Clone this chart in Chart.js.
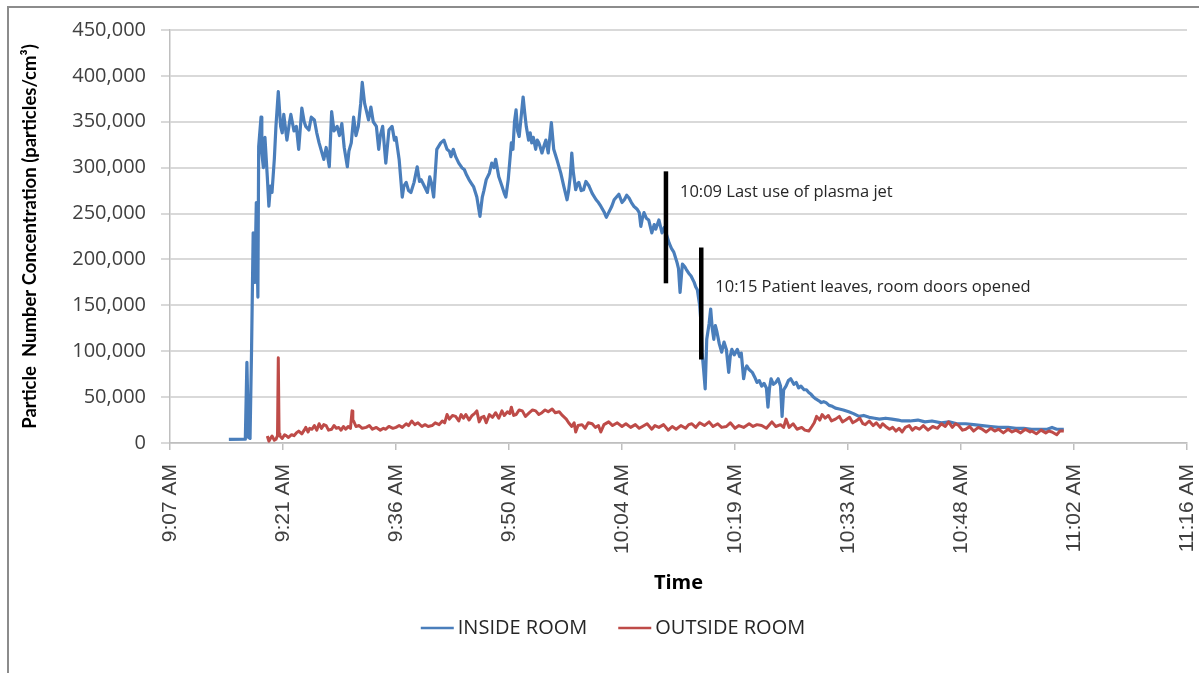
<!DOCTYPE html>
<html>
<head>
<meta charset="utf-8">
<script src="https://cdn.jsdelivr.net/npm/chart.js@4.4.0/dist/chart.umd.min.js"></script>
<style>
html, body { margin: 0; padding: 0; background: #fff; overflow: hidden; }
#frame { position: absolute; left: 7px; top: 6px; width: 1190px; height: 665px; border-top: 2px solid #8c8c8c; border-left: 2px solid #8c8c8c; }
#wrap { position: absolute; left: 0; top: 0; width: 1199px; height: 673px; }
</style>
</head>
<body>
<div id="frame"></div>
<div id="wrap"><canvas id="particleChart" width="1199" height="673"></canvas></div>
<script>
// time is minutes after 9:00 AM, counts in particles/cm3
const insideTime = [14.7, 16.8, 17.0, 17.2, 17.4, 17.6, 17.8, 18.0, 18.2, 18.4, 18.5, 18.8, 18.9, 19.1, 19.3, 19.6, 19.8, 20.0, 20.2, 20.5,
  20.7, 21.0, 21.3, 21.5, 21.7, 22.1, 22.4, 22.6, 23.0, 23.3, 23.6, 24.0, 24.3, 24.5, 24.9, 25.2, 25.6, 25.9, 26.2, 26.5,
  26.8, 27.1, 27.5, 27.8, 28.1, 28.5, 28.8, 29.1, 29.4, 29.8, 30.0, 30.3, 30.6, 30.9, 31.2, 31.5, 31.7, 32.0, 32.2, 32.5,
  32.8, 33.1, 33.5, 33.8, 34.0, 34.3, 34.7, 35.1, 35.5, 35.8, 36.0, 36.4, 36.8, 37.0, 37.3, 37.6, 37.9, 38.3, 38.7, 39.0,
  39.2, 39.6, 40.0, 40.3, 40.5, 40.8, 41.2, 41.7, 42.1, 42.5, 42.8, 43.0, 43.3, 43.6, 44.0, 44.4, 44.7, 45.0, 45.3, 45.6,
  45.9, 46.3, 46.7, 47.0, 47.2, 47.5, 47.9, 48.2, 48.5, 48.7, 49.1, 49.5, 49.8, 50.0, 50.3, 50.7, 50.9, 51.1, 51.3, 51.5,
  51.7, 52.0, 52.2, 52.4, 52.6, 52.9, 53.1, 53.3, 53.5, 53.8, 54.0, 54.2, 54.4, 54.6, 54.9, 55.1, 55.4, 55.8, 56.1, 56.5,
  57.0, 57.4, 57.8, 58.0, 58.2, 58.4, 58.6, 58.9, 59.1, 59.3, 59.6, 59.9, 60.2, 60.6, 61.0, 61.5, 61.8, 62.1, 62.5, 62.8,
  63.1, 63.5, 63.8, 64.1, 64.4, 64.8, 65.1, 65.4, 65.7, 66.0, 66.3, 66.7, 67.0, 67.2, 67.4, 67.6, 67.9, 68.2, 68.6, 68.9,
  69.1, 69.5, 69.9, 70.2, 70.4, 70.8, 71.1, 71.4, 71.8, 72.0, 72.2, 72.4, 72.5, 72.8, 73.0, 73.3, 73.6, 74.0, 74.2, 74.4,
  74.7, 74.9, 75.0, 75.2, 75.4, 75.6, 75.9, 76.1, 76.3, 76.5, 76.7, 76.9, 77.2, 77.5, 77.8, 78.1, 78.4, 78.6, 78.8, 79.1,
  79.5, 79.8, 80.0, 80.3, 80.5, 80.7, 81.0, 81.4, 81.7, 82.0, 82.3, 82.6, 82.9, 83.2, 83.4, 83.6, 83.8, 84.1, 84.4, 84.7,
  85.0, 85.2, 85.4, 85.7, 86.0, 86.3, 86.7, 87.0, 87.3, 87.6, 88.0, 88.3, 88.6, 88.9, 89.2, 89.5, 89.9, 90.2, 90.5, 90.8,
  91.2, 91.6, 92.0, 92.5, 93.0, 93.7, 94.3, 95.0, 95.6, 96.3, 97.0, 97.6, 98.4, 99.2, 100.0, 100.5, 101.5, 102.5, 103.4, 104.3,
  105.5, 106.5, 107.5, 108.6, 109.6, 110.7, 111.8, 112.8, 114.0, 115.0, 116.0, 117.0, 118.0, 119.0, 119.6, 120.2, 121.1];
const insideCount = [4000, 4200, 88000, 6000, 5000, 105000, 229000, 175000, 262000, 159000, 323000, 355000, 316000, 300000, 333000, 290000, 258000, 280000, 273000, 310000,
  345000, 383000, 345000, 338000, 358000, 330000, 348000, 358000, 340000, 345000, 320000, 365000, 350000, 345000, 341000, 355000, 352000, 338000, 327000, 318000,
  309000, 322000, 301000, 361000, 340000, 345000, 335000, 348000, 322000, 301000, 318000, 327000, 355000, 335000, 345000, 370000, 393000, 370000, 363000, 352000,
  366000, 350000, 345000, 320000, 335000, 345000, 305000, 341000, 345000, 330000, 333000, 309000, 268000, 280000, 284000, 275000, 273000, 284000, 301000, 285000,
  287000, 280000, 273000, 290000, 284000, 268000, 320000, 327000, 330000, 320000, 318000, 312000, 320000, 312000, 305000, 300000, 298000, 292000, 287000, 283000,
  279000, 268000, 247000, 268000, 275000, 287000, 294000, 305000, 300000, 309000, 290000, 280000, 272000, 268000, 287000, 327000, 320000, 350000, 363000, 340000,
  334000, 360000, 377000, 360000, 345000, 330000, 338000, 327000, 333000, 320000, 330000, 327000, 322000, 316000, 325000, 330000, 316000, 349000, 320000, 309000,
  294000, 279000, 265000, 275000, 290000, 316000, 295000, 276000, 282000, 284000, 275000, 276000, 285000, 280000, 272000, 265000, 262000, 258000, 252000, 246000,
  251000, 258000, 265000, 268000, 271000, 262000, 265000, 270000, 267000, 262000, 258000, 255000, 251000, 236000, 245000, 251000, 245000, 243000, 229000, 238000,
  233000, 243000, 229000, 235000, 229000, 218000, 212000, 208000, 197000, 190000, 164000, 185000, 195000, 192000, 189000, 185000, 182000, 175000, 170000, 167000,
  150000, 127000, 99000, 80000, 59000, 113000, 130000, 146000, 125000, 113000, 128000, 121000, 108000, 99000, 110000, 102000, 77000, 95000, 102000, 96000,
  102000, 94000, 98000, 70000, 80000, 84000, 80000, 77000, 72000, 66000, 68000, 62000, 65000, 60000, 39000, 60000, 70000, 64000, 66000, 70000,
  62000, 29000, 58000, 62000, 68000, 70000, 64000, 66000, 60000, 62000, 58000, 58000, 55000, 53000, 50000, 48000, 46000, 44000, 45000, 44000,
  41000, 40000, 38000, 37000, 36000, 34000, 32000, 29000, 30000, 28000, 27000, 26000, 27000, 26000, 25000, 24000, 24000, 25000, 23000, 24000,
  22000, 23000, 21000, 21000, 20000, 19000, 18000, 17000, 17000, 16000, 16000, 15000, 15000, 15000, 17000, 15000, 15000];

const outsideTime = [19.6, 19.8, 20.0, 20.2, 20.5, 20.7, 20.9, 21.0, 21.1, 21.2, 21.5, 21.8, 22.0, 22.3, 22.7, 23.0, 23.3, 23.6, 24.0, 24.3,
  24.5, 24.8, 25.0, 25.3, 25.6, 25.9, 26.2, 26.5, 26.8, 27.1, 27.4, 27.8, 28.1, 28.4, 28.7, 29.0, 29.3, 29.6, 29.9, 30.2,
  30.4, 30.5, 30.6, 30.9, 31.3, 31.7, 32.2, 32.6, 33.0, 33.5, 34.0, 34.4, 34.7, 35.1, 35.6, 36.0, 36.4, 36.8, 37.3, 37.6,
  38.0, 38.4, 38.8, 39.3, 39.7, 40.1, 40.6, 41.0, 41.5, 41.9, 42.2, 42.5, 42.8, 43.2, 43.6, 44.0, 44.3, 44.6, 44.9, 45.3,
  45.7, 46.0, 46.3, 46.6, 46.9, 47.2, 47.5, 47.9, 48.3, 48.7, 49.1, 49.5, 49.8, 50.2, 50.5, 50.7, 51.0, 51.3, 51.7, 52.1,
  52.5, 53.0, 53.4, 53.8, 54.2, 54.6, 55.0, 55.4, 55.9, 56.3, 56.8, 57.2, 57.7, 58.0, 58.4, 58.7, 58.9, 59.2, 59.7, 60.1,
  60.5, 61.0, 61.4, 61.8, 62.1, 62.5, 63.1, 63.6, 64.2, 64.8, 65.3, 65.9, 66.5, 67.0, 67.4, 68.0, 68.6, 69.0, 69.5, 70.1,
  70.7, 71.2, 71.7, 72.3, 72.9, 73.3, 73.7, 74.2, 74.7, 75.3, 75.9, 76.4, 77.0, 77.5, 78.1, 78.6, 79.2, 79.7, 80.3, 81.0,
  81.5, 82.0, 82.6, 83.2, 83.9, 84.4, 85.0, 85.4, 85.7, 86.1, 86.6, 87.1, 87.7, 88.1, 88.6, 89.0, 89.3, 89.6, 90.0, 90.3,
  90.7, 91.1, 91.5, 92.0, 92.5, 92.9, 93.3, 93.8, 94.2, 94.6, 95.1, 95.5, 95.8, 96.3, 96.8, 97.2, 97.7, 98.0, 98.4, 98.9,
  99.3, 99.7, 100.1, 100.5, 100.9, 101.4, 101.8, 102.2, 102.7, 103.2, 103.8, 104.4, 105.0, 105.5, 106.0, 106.4, 106.9, 107.3, 107.7, 108.2,
  108.6, 109.1, 109.6, 110.2, 110.7, 111.2, 111.8, 112.3, 112.8, 113.4, 114.0, 114.5, 115.0, 115.6, 116.2, 116.8, 117.0, 117.6, 118.2, 118.8,
  119.2, 119.6, 120.2, 120.6, 121.1];
const outsideCount = [7600, 2000, 5000, 7600, 3000, 4000, 8000, 93000, 10000, 7600, 5000, 9000, 8000, 6000, 9000, 8000, 11000, 13000, 10000, 14000,
  17000, 12000, 16000, 15000, 19000, 14000, 21000, 16000, 20000, 19000, 14000, 15000, 19000, 16000, 17000, 14000, 18000, 15000, 18000, 16000,
  35000, 24000, 24000, 18000, 19000, 16000, 17000, 19000, 15000, 17000, 14000, 16000, 15000, 18000, 16000, 17000, 19000, 17000, 21000, 19000,
  24000, 20000, 22000, 18000, 20000, 18000, 19000, 22000, 20000, 24000, 22000, 31000, 26000, 30000, 29000, 24000, 31000, 27000, 31000, 25000,
  30000, 32000, 35000, 23000, 28000, 29000, 22000, 31000, 28000, 33000, 27000, 35000, 30000, 34000, 32000, 39000, 30000, 31000, 36000, 35000,
  29000, 33000, 36000, 35000, 31000, 33000, 36000, 34000, 37000, 33000, 34000, 30000, 26000, 22000, 18000, 22000, 12000, 19000, 20000, 16000,
  22000, 21000, 17000, 19000, 12000, 20000, 23000, 19000, 22000, 18000, 21000, 17000, 20000, 16000, 18000, 21000, 15000, 19000, 17000, 20000,
  14000, 18000, 15000, 19000, 16000, 20000, 21000, 17000, 22000, 19000, 23000, 18000, 21000, 17000, 18000, 22000, 16000, 19000, 17000, 21000,
  18000, 20000, 19000, 16000, 23000, 18000, 20000, 17000, 26000, 17000, 21000, 15000, 17000, 14000, 13000, 18000, 22000, 29000, 25000, 31000,
  27000, 30000, 24000, 26000, 29000, 23000, 25000, 28000, 22000, 24000, 27000, 21000, 20000, 24000, 19000, 22000, 17000, 21000, 18000, 15000,
  17000, 13000, 16000, 12000, 17000, 19000, 14000, 17000, 15000, 19000, 14000, 18000, 16000, 21000, 18000, 23000, 17000, 21000, 19000, 14000,
  15000, 18000, 13000, 17000, 15000, 12000, 16000, 13000, 15000, 11000, 15000, 12000, 14000, 11000, 15000, 12000, 13000, 10000, 14000, 11000,
  13000, 12000, 9000, 13000, 13000];

const xTickValues = [7.2, 21.6, 36.0, 50.4, 64.8, 79.2, 93.6, 108.0, 122.4, 136.8];
const xTickLabels = ['9:07 AM', '9:21 AM', '9:36 AM', '9:50 AM', '10:04 AM', '10:19 AM', '10:33 AM', '10:48 AM', '11:02 AM', '11:16 AM'];

const markerTime = [70.4, 74.9];
const markerLow = [174000, 91000];
const markerHigh = [296000, 213000];
const noteLevel = [273000, 170000];
const noteText = ['10:09 Last use of plasma jet', '10:15 Patient leaves, room doors opened'];

const seriesNames = ['INSIDE ROOM', 'OUTSIDE ROOM'];
const blue = '#4a7ebb';
const red = '#be4b48';

function pairs(times, values) {
    return times.map((t, i) => ({ x: t, y: values[i] }));
}

const datasets = [
    { label: seriesNames[0], data: pairs(insideTime, insideCount), borderColor: blue, borderWidth: 3.2, order: 3 },
    { label: seriesNames[1], data: pairs(outsideTime, outsideCount), borderColor: red, borderWidth: 3, order: 2 }
];
markerTime.forEach((t, i) => {
    datasets.push({
        label: 'marker' + i,
        data: [{ x: t, y: markerLow[i] }, { x: t, y: markerHigh[i] }],
        borderColor: '#000',
        borderWidth: 4.5,
        borderCapStyle: 'butt',
        order: 1
    });
});

const notesAndLegend = {
    id: 'notesAndLegend',
    afterDraw(chart) {
        const { ctx, scales: { x, y } } = chart;
        ctx.save();
        ctx.fillStyle = '#262626';
        ctx.textBaseline = 'middle';
        ctx.font = '16.5px "Open Sans"';
        noteText.forEach((txt, i) => {
            ctx.fillText(txt, x.getPixelForValue(markerTime[i]) + 14, y.getPixelForValue(noteLevel[i]));
        });

        // legend
        ctx.font = '20px "Open Sans"';
        const lineLen = 33, gap = 4, spacing = 31;
        const widths = seriesNames.map(n => ctx.measureText(n).width);
        const total = widths.reduce((a, w) => a + lineLen + gap + w, 0) + spacing;
        let lx = 613 - total / 2;
        const ly = 628;
        seriesNames.forEach((n, i) => {
            ctx.strokeStyle = chart.data.datasets[i].borderColor;
            ctx.lineWidth = 2.5;
            ctx.beginPath();
            ctx.moveTo(lx, ly);
            ctx.lineTo(lx + lineLen, ly);
            ctx.stroke();
            ctx.fillStyle = '#262626';
            ctx.fillText(n, lx + lineLen + gap, ly);
            lx += lineLen + gap + widths[i] + spacing;
        });
        ctx.restore();
    }
};

const ctx = document.getElementById('particleChart').getContext('2d');
const particleChart = new Chart(ctx, {
    type: 'line',
    data: { datasets: datasets },
    options: {
        responsive: false,
        animation: false,
        devicePixelRatio: 1,
        layout: { padding: { left: 9, top: 30, right: 12, bottom: 74 } },
        elements: {
            point: { radius: 0 },
            line: { tension: 0, borderJoinStyle: 'round' }
        },
        plugins: {
            legend: { display: false },
            tooltip: { enabled: false }
        },
        scales: {
            x: {
                type: 'linear',
                min: 7.2,
                max: 136.8,
                afterBuildTicks: (scale) => {
                    scale.ticks = xTickValues.map(v => ({ value: v }));
                },
                afterFit: (scale) => {
                    scale.height = 156;
                    scale.paddingLeft = 0;
                    scale.paddingRight = 0;
                },
                ticks: {
                    autoSkip: false,
                    maxRotation: 90,
                    minRotation: 90,
                    padding: 14,
                    color: '#404040',
                    font: { family: '"Liberation Sans", Arial', size: 21 },
                    callback: (v, i) => xTickLabels[i]
                },
                grid: { drawOnChartArea: false, drawTicks: true, tickLength: 7, color: '#bfbfbf', lineWidth: 1.5 },
                border: { display: true, color: '#bfbfbf', width: 1.5 },
                title: {
                    display: true,
                    text: 'Time',
                    color: '#000',
                    font: { family: '"Open Sans"', size: 20, weight: 'bold' },
                    padding: { top: 0, bottom: 4 }
                }
            },
            y: {
                min: 0,
                max: 450000,
                afterFit: (scale) => {
                    scale.width = 161;
                    scale.paddingTop = 0;
                    scale.paddingBottom = 0;
                },
                ticks: {
                    stepSize: 50000,
                    padding: 15,
                    color: '#404040',
                    font: { family: '"Open Sans"', size: 20 },
                    callback: (v) => v.toLocaleString('en-US')
                },
                grid: { color: '#d9d9d9', lineWidth: 2, tickLength: 9 },
                border: { display: true, color: '#bfbfbf', width: 1.5 },
                title: {
                    display: true,
                    text: 'Particle  Number Concentration (particles/cm³)',
                    color: '#000',
                    font: { family: 'Lato', size: 18.5, weight: 'bold' },
                    padding: { top: 10, bottom: 0 }
                }
            }
        }
    },
    plugins: [notesAndLegend]
});
</script>
</body>
</html>
